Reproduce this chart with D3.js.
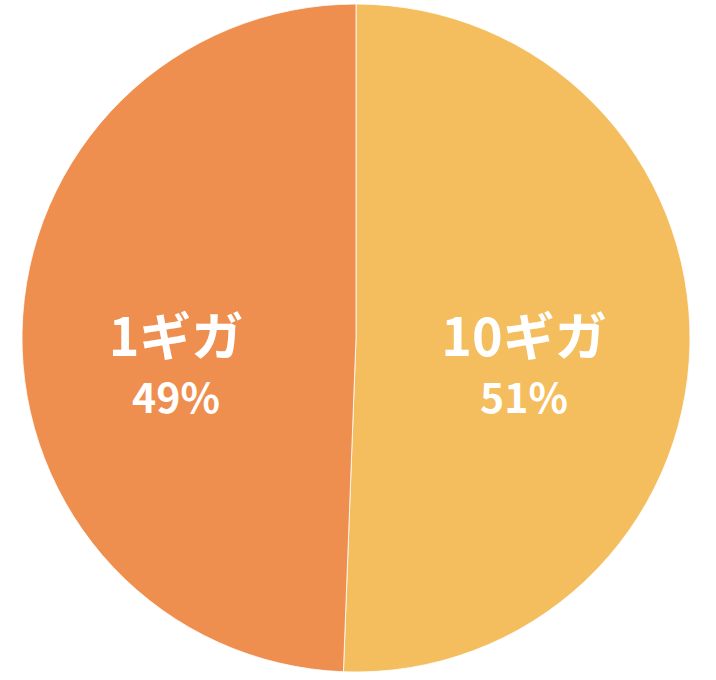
<!DOCTYPE html>
<html><head><meta charset="utf-8">
<script src="https://cdn.jsdelivr.net/npm/d3@7"></script>
<style>html,body{margin:0;padding:0;background:#fff;}</style>
</head><body>
<svg id="c" width="716" height="680"></svg>
<script>
const categories = ["10ギガ", "1ギガ"];
const values = [50.6, 49.4];
const percentLabels = ["51%", "49%"];
const colors = ["#F4BD5D", "#EF8F4F"];

const svg = d3.select("#c");
const cx = 356, cy = 338, r = 334;
const g = svg.append("g").attr("transform", `translate(${cx},${cy})`);
const data = categories.map((c, i) => ({cat: c, v: values[i], pct: percentLabels[i], col: colors[i]}));
const pie = d3.pie().sort(null).value(d => d.v);
const arc = d3.arc().innerRadius(0).outerRadius(r);
const labelArc = d3.arc().innerRadius(174).outerRadius(174);
const arcs = pie(data);
g.selectAll("path").data(arcs).join("path")
  .attr("d", arc).attr("fill", d => d.data.col)
  .attr("stroke", "#fff").attr("stroke-width", 0.8);
const lg = svg.append("g").attr("transform", `translate(${cx - 6},${cy})`);
const txt = lg.selectAll("text.lab").data(arcs).join("text").attr("class", "lab")
  .attr("text-anchor", "middle")
  .attr("font-family", "'Noto Sans CJK JP', 'Noto Sans', sans-serif").attr("font-weight", "bold")
  .attr("fill", "#fff")
  .attr("transform", d => { const [x] = labelArc.centroid(d); return `translate(${x},0)`; });
txt.append("tspan").attr("x", 0).attr("y", 18).attr("font-size", 52).text(d => d.data.cat);
txt.append("tspan").attr("x", 0).attr("y", 75).attr("font-size", 41).text(d => d.data.pct);
</script>
</body></html>
